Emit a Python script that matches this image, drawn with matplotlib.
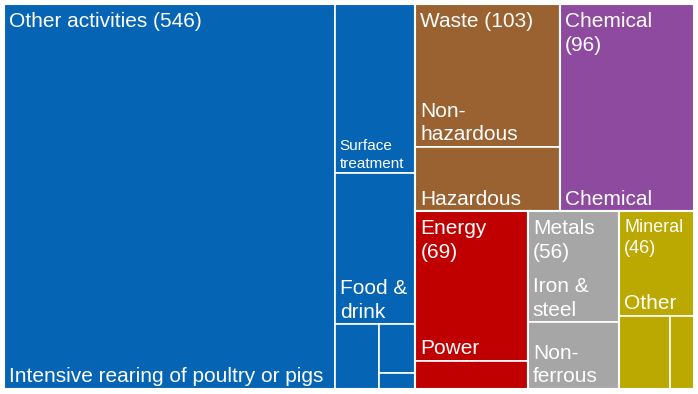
import matplotlib
matplotlib.use("Agg")
import matplotlib.pyplot as plt
from matplotlib.patches import Rectangle

# categories (number of activities)
categories = ["Other activities", "Waste", "Chemical", "Energy", "Metals", "Mineral"]
totals = [546, 103, 96, 69, 56, 46]
colors = ["#0664B4", "#9B6231", "#8E4A9E", "#C00000", "#A6A6A6", "#BBA800"]

# sub activities
other_names = ["Intensive rearing of poultry or pigs", "Surface\ntreatment", "Food &\ndrink", "", "", ""]
other_vals = [439, 47, 42, 10, 6, 2]
waste_names = ["Non-\nhazardous", "Hazardous"]
waste_vals = [71, 32]
chem_names = ["Chemical"]
chem_vals = [96]
energy_names = ["Power", ""]
energy_vals = [58, 11]
metals_names = ["Iron &\nsteel", "Non-\nferrous"]
metals_vals = [35, 21]
mineral_names = ["Other", "", ""]
mineral_vals = [27, 13, 6]

W, H = 698, 394
X0, Y0, X1, Y1 = 4, 4, 694, 389


def split(vals, rect, horizontal):
    x, y, w, h = rect
    tot = float(sum(vals))
    out = []
    for v in vals:
        if horizontal:
            ww = w * v / tot
            out.append((x, y, ww, h))
            x += ww
        else:
            hh = h * v / tot
            out.append((x, y, w, hh))
            y += hh
    return out


fig = plt.figure(figsize=(6.98, 3.94), dpi=100)
ax = fig.add_axes([0, 0, 1, 1])
ax.set_xlim(0, W)
ax.set_ylim(H, 0)
ax.axis("off")

full = (X0, Y0, X1 - X0, Y1 - Y0)
left, right = split([totals[0], sum(totals[1:])], full, True)
top_row, bot_row = split([sum(totals[1:3]), sum(totals[3:])], right, False)
cat_rects = [left] + split(totals[1:3], top_row, True) + split(totals[3:], bot_row, True)

# sub rectangles
sub = {}
r_int, r_col = split([other_vals[0], sum(other_vals[1:])], cat_rects[0], True)
r_surf, r_food, r_rest = split([other_vals[1], other_vals[2], sum(other_vals[3:])], r_col, False)
r_a, r_bc = split([other_vals[3], sum(other_vals[4:])], r_rest, True)
sub[0] = [r_int, r_surf, r_food, r_a] + split(other_vals[4:], r_bc, False)
sub[1] = split(waste_vals, cat_rects[1], False)
sub[2] = split(chem_vals, cat_rects[2], False)
sub[3] = split(energy_vals, cat_rects[3], False)
sub[4] = split(metals_vals, cat_rects[4], False)
r_oth, r_sm = split([mineral_vals[0], sum(mineral_vals[1:])], cat_rects[5], False)
sub[5] = [r_oth] + split(mineral_vals[1:], r_sm, True)

names = [other_names, waste_names, chem_names, energy_names, metals_names, mineral_names]
font = "Liberation Sans"
ls = 1.3

for i, cat in enumerate(categories):
    for (x, y, w, h), nm in zip(sub[i], names[i]):
        ax.add_patch(Rectangle((x, y), w, h, facecolor=colors[i], edgecolor="white", lw=1.2))
        if nm:
            fs = 11 if nm.startswith("Surface") else 15
            ax.text(x + 5, y + h - 2.5, nm, color="white", fontsize=fs, family=font,
                    ha="left", va="bottom", linespacing=ls)
    x, y, w, h = cat_rects[i]
    ax.add_patch(Rectangle((x, y), w, h, facecolor="none", edgecolor="white", lw=1.5))
    label = f"{cat} ({totals[i]})"
    if w < 140:
        label = f"{cat}\n({totals[i]})"
    fs = 13 if cat == "Mineral" else 15
    ax.text(x + 5, y + 8, label, color="white", fontsize=fs, family=font,
            ha="left", va="top", linespacing=ls)

fig.savefig("out.png", dpi=100)
